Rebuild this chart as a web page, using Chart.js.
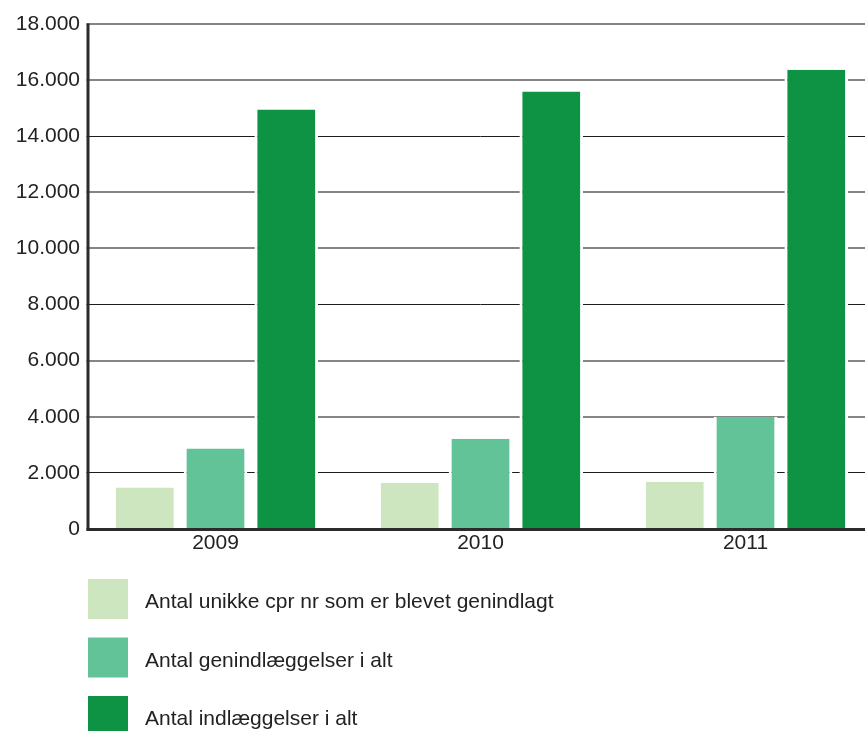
<!DOCTYPE html>
<html lang="da">
<head>
<meta charset="utf-8">
<script src="https://cdn.jsdelivr.net/npm/chart.js@4.4.1/dist/chart.umd.min.js"></script>
<style>
  html, body { margin: 0; padding: 0; background: #fff; }
  body { width: 865px; height: 731px; overflow: hidden; }
  #wrap { width: 880px; height: 731px; position: relative; }
  canvas { display: block; }
</style>
</head>
<body>
<div id="wrap"><canvas id="chart" width="880" height="731"></canvas></div>
<script>
// Genindlæggelser 2009–2011
const years = ['2009', '2010', '2011'];
const seriesNames = [
  'Antal unikke cpr nr som er blevet genindlagt',
  'Antal genindlæggelser i alt',
  'Antal indlæggelser i alt'
];
const uniqueCpr = [1480, 1650, 1680];
const readmissions = [2870, 3220, 4000];
const admissions = [14950, 15590, 16370];
const yTicks = [0, 2000, 4000, 6000, 8000, 10000, 12000, 14000, 16000, 18000];

const colors = ['#cde6c0', '#62c399', '#0e9345'];
const textColor = '#222222';
const axisColor = '#2b2b2b';
const fontFamily = '"Liberation Sans", Arial, sans-serif';

function fmt(v) {
  return String(v).replace(/\B(?=(\d{3})+(?!\d))/g, '.');
}

// Left axis line, set a few pixels inside the plot's left edge
const insetAxis = {
  id: 'insetAxis',
  afterDraw(chart, args, opts) {
    const { ctx, chartArea: a } = chart;
    const x = a.left + opts.inset;
    ctx.save();
    ctx.fillStyle = '#ffffff';
    ctx.fillRect(a.left - 1, a.top - 2, x - a.left - opts.width / 2 + 1, a.bottom - a.top + 6);
    ctx.strokeStyle = axisColor;
    ctx.lineWidth = opts.width;
    ctx.beginPath();
    ctx.moveTo(x, a.top - 0.5);
    ctx.lineTo(x, a.bottom + 1.5);
    ctx.stroke();
    ctx.restore();
  }
};

// Vertical legend drawn under the plot
const stackedLegend = {
  id: 'stackedLegend',
  afterDraw(chart, args, opts) {
    const ctx = chart.ctx;
    ctx.save();
    ctx.font = opts.fontSize + 'px ' + fontFamily;
    ctx.textBaseline = 'alphabetic';
    ctx.textAlign = 'left';
    chart.data.datasets.forEach((ds, i) => {
      const top = opts.top + i * opts.step;
      ctx.fillStyle = ds.backgroundColor;
      ctx.fillRect(opts.left, top, opts.box, opts.box);
      ctx.fillStyle = textColor;
      ctx.fillText(ds.label, opts.textLeft, top + opts.baseline);
    });
    ctx.restore();
  }
};

const barStyle = {
  borderColor: '#ffffff',
  borderWidth: { left: 3, right: 3, top: 0, bottom: 0 },
  borderSkipped: false,
  categoryPercentage: 0.801,
  barPercentage: 0.9
};

new Chart(document.getElementById('chart'), {
  type: 'bar',
  data: {
    labels: years,
    datasets: [
      Object.assign({ label: seriesNames[0], data: uniqueCpr, backgroundColor: colors[0] }, barStyle),
      Object.assign({ label: seriesNames[1], data: readmissions, backgroundColor: colors[1] }, barStyle),
      Object.assign({ label: seriesNames[2], data: admissions, backgroundColor: colors[2] }, barStyle)
    ]
  },
  plugins: [insetAxis, stackedLegend],
  options: {
    responsive: false,
    animation: false,
    devicePixelRatio: 1,
    layout: { padding: { top: 24, right: 2, bottom: 0, left: 0 } },
    plugins: {
      legend: { display: false },
      tooltip: { enabled: false },
      insetAxis: { inset: 5, width: 3 },
      stackedLegend: { left: 88, top: 579, step: 58.5, box: 40, textLeft: 145, baseline: 29, fontSize: 21 }
    },
    scales: {
      x: {
        grid: { display: false, drawTicks: false },
        border: { display: true, color: axisColor, width: 3 },
        ticks: { color: textColor, font: { family: fontFamily, size: 21 }, padding: 2 },
        afterFit(scale) { scale.height = 202; }
      },
      y: {
        min: 0,
        max: 18000,
        afterBuildTicks(scale) { scale.ticks = yTicks.map(v => ({ value: v })); },
        grid: {
          drawTicks: false,
          color: ctx => (ctx.tick && ctx.tick.value % 6000 === 2000) ? '#1c1c1c' : '#858585',
          lineWidth: ctx => (ctx.tick && ctx.tick.value % 6000 === 2000) ? 1 : 2
        },
        border: { display: false },
        ticks: {
          color: textColor,
          font: { family: fontFamily, size: 21 },
          padding: 3,
          callback: v => fmt(v)
        },
        afterFit(scale) { scale.width = 83; }
      }
    }
  }
});
</script>
</body>
</html>
